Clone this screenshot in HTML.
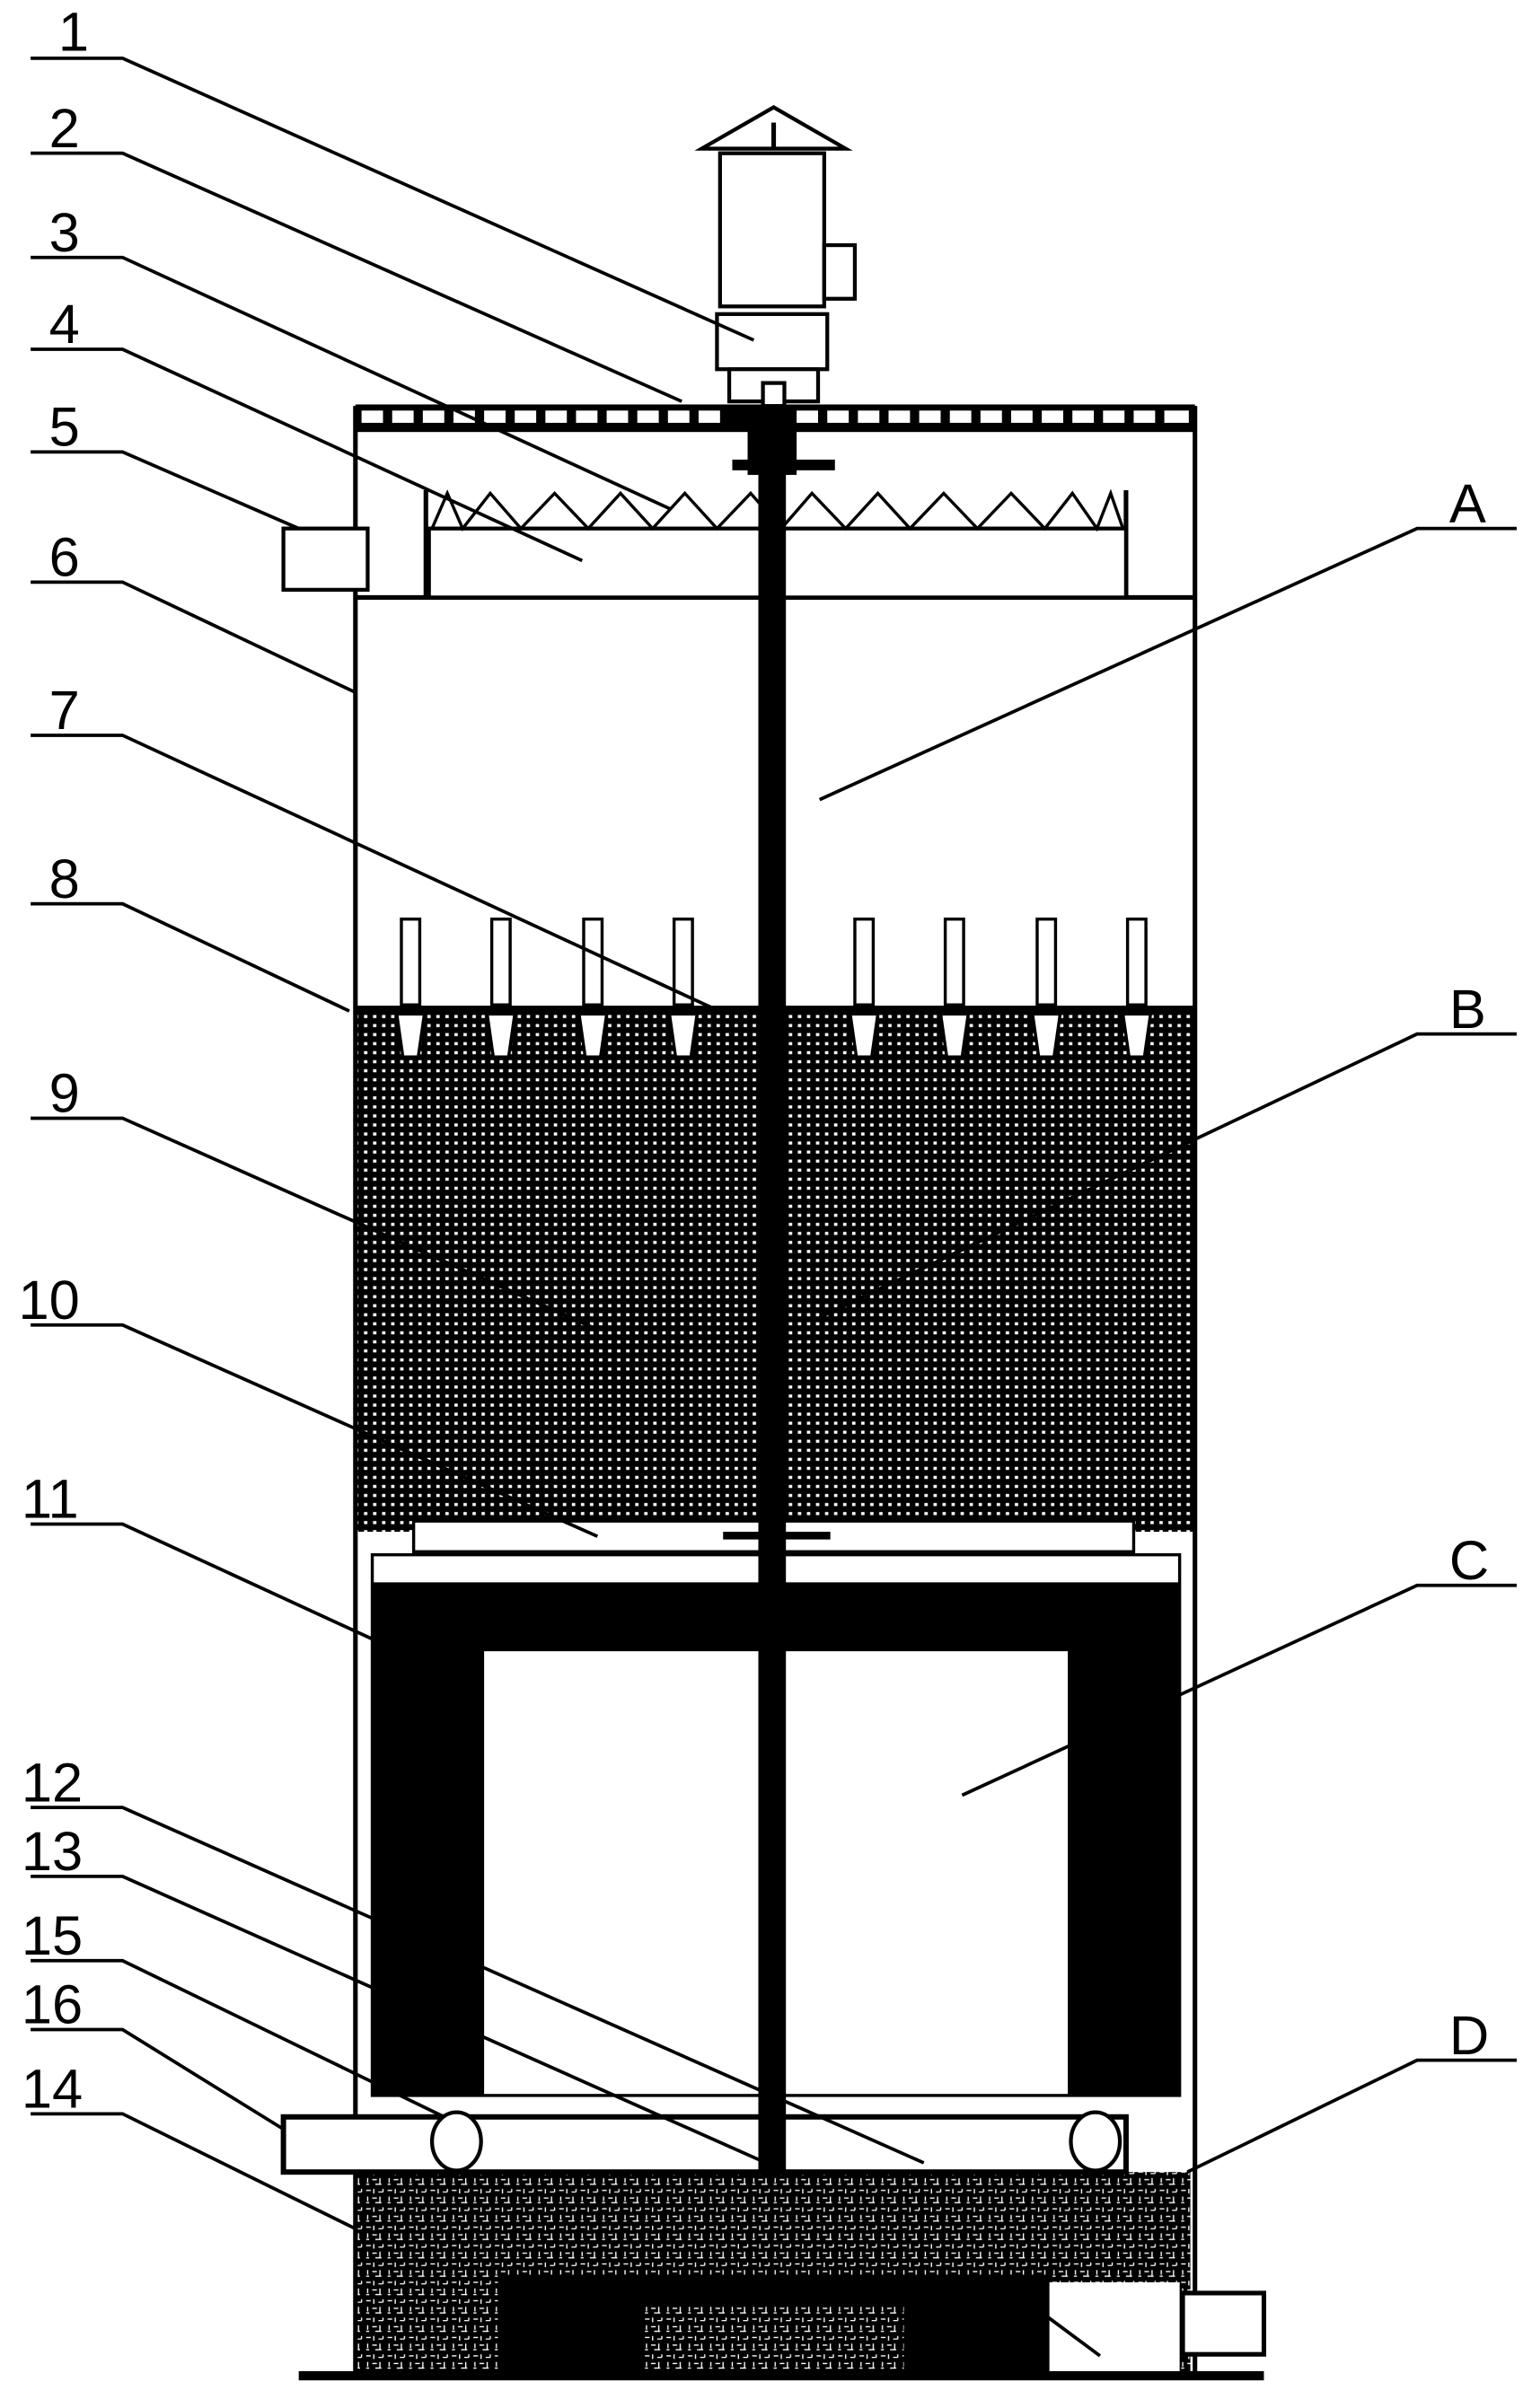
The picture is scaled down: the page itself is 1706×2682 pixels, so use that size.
<!DOCTYPE html>
<html><head><meta charset="utf-8"><style>html,body{margin:0;padding:0;background:#fff}svg{display:block}</style></head>
<body>
<svg width="1706" height="2682" viewBox="0 0 1000 1572" xmlns="http://www.w3.org/2000/svg" font-family="Liberation Sans, sans-serif">
<defs>
<pattern id="mesh" width="5.9" height="5.9" patternUnits="userSpaceOnUse">
<rect width="5.9" height="5.9" fill="#000"/><rect x="1.6" y="1.8" width="2.2" height="2.0" fill="#fff"/>
</pattern>
<pattern id="grav" width="14" height="12" patternUnits="userSpaceOnUse">
<rect width="14" height="12" fill="#000"/>
<path d="M1 2h3M6 1v3M9 3h3M2 6v3M5 7h3M10 6v4M1 10h2M7 10h4M12 1v2" stroke="#fff" stroke-width="0.8" fill="none"/>
</pattern>
</defs>
<!-- motor -->
<g fill="#fff" stroke="#000" stroke-width="2.5">
<path d="M458 97L505 70L552 97Z"/>
<rect x="470" y="100" width="68" height="100"/>
<rect x="538" y="160" width="20" height="35"/>
<rect x="468" y="205" width="72" height="36"/>
<path d="M476 241H534V262H476Z"/>
<rect x="498" y="250" width="14" height="15"/>
</g>
<line x1="505" y1="80" x2="505" y2="97" stroke="#000" stroke-width="3"/>
<rect x="232" y="658" width="548" height="342" fill="url(#mesh)"/>
<rect x="232" y="1418" width="545" height="132" fill="url(#grav)"/>
<rect x="325" y="1485" width="360" height="65" fill="#000"/>
<rect x="420" y="1505" width="170" height="45" fill="url(#grav)"/>
<rect x="685" y="1490" width="85" height="60" fill="#fff"/>
<g stroke="#000" stroke-width="3" fill="none">
<line x1="232" y1="265" x2="232" y2="1550"/>
<line x1="780" y1="265" x2="780" y2="1550"/>
<line x1="232" y1="390" x2="780" y2="390"/>
<line x1="278" y1="320" x2="278" y2="390"/>
<line x1="735" y1="320" x2="735" y2="390"/>
</g>
<rect x="232" y="264" width="548" height="18" fill="#000"/>
<g fill="#fff">
<rect x="236" y="268" width="14" height="8"/><rect x="256" y="268" width="14" height="8"/><rect x="276" y="268" width="14" height="8"/><rect x="296" y="268" width="14" height="8"/><rect x="316" y="268" width="14" height="8"/><rect x="336" y="268" width="14" height="8"/><rect x="356" y="268" width="14" height="8"/><rect x="376" y="268" width="14" height="8"/><rect x="396" y="268" width="14" height="8"/><rect x="416" y="268" width="14" height="8"/><rect x="436" y="268" width="14" height="8"/><rect x="456" y="268" width="14" height="8"/>
<rect x="520" y="268" width="14" height="8"/><rect x="540" y="268" width="14" height="8"/><rect x="560" y="268" width="14" height="8"/><rect x="580" y="268" width="14" height="8"/><rect x="600" y="268" width="14" height="8"/><rect x="620" y="268" width="14" height="8"/><rect x="640" y="268" width="14" height="8"/><rect x="660" y="268" width="14" height="8"/><rect x="680" y="268" width="14" height="8"/><rect x="700" y="268" width="14" height="8"/><rect x="720" y="268" width="14" height="8"/><rect x="740" y="268" width="14" height="8"/><rect x="760" y="268" width="16" height="8"/>
</g>
<rect x="280" y="345" width="455" height="45" fill="#fff" stroke="#000" stroke-width="2.5"/>
<path d="M282 345L292 322L302 345L320 322L340 345L362 322L384 345L405 322L426 345L447 322L468 345L490 322L510 345L530 322L552 345L573 322L594 345L616 322L638 345L660 322L682 345L700 322L716 345L725 322L733 345" fill="none" stroke="#000" stroke-width="2"/>
<rect x="185" y="345" width="55" height="40" fill="#fff" stroke="#000" stroke-width="2.5"/>
<g fill="#fff" stroke="#000" stroke-width="2">
<rect x="262" y="600" width="12" height="56"/><path d="M259 662h18l-4 28h-10z"/>
<rect x="321" y="600" width="12" height="56"/><path d="M318 662h18l-4 28h-10z"/>
<rect x="381" y="600" width="12" height="56"/><path d="M378 662h18l-4 28h-10z"/>
<rect x="440" y="600" width="12" height="56"/><path d="M437 662h18l-4 28h-10z"/>
<rect x="558" y="600" width="12" height="56"/><path d="M555 662h18l-4 28h-10z"/>
<rect x="617" y="600" width="12" height="56"/><path d="M614 662h18l-4 28h-10z"/>
<rect x="677" y="600" width="12" height="56"/><path d="M674 662h18l-4 28h-10z"/>
<rect x="736" y="600" width="12" height="56"/><path d="M733 662h18l-4 28h-10z"/>
</g>
<line x1="232" y1="658" x2="780" y2="658" stroke="#000" stroke-width="3"/>
<rect x="270" y="993" width="470" height="20" fill="#fff" stroke="#000" stroke-width="2"/>
<rect x="243" y="1015" width="527" height="353" fill="#fff" stroke="#000" stroke-width="2"/>
<path d="M243 1033H770V1368H697V1078H316V1368H243Z" fill="#000"/>
<rect x="185" y="1382" width="550" height="36" fill="#fff" stroke="#000" stroke-width="3.5"/>
<ellipse cx="298" cy="1398" rx="16" ry="19" fill="#fff" stroke="#000" stroke-width="2.5"/>
<ellipse cx="715" cy="1398" rx="16" ry="19" fill="#fff" stroke="#000" stroke-width="2.5"/>
<rect x="495" y="265" width="18" height="1155" fill="#000"/>
<rect x="488" y="280" width="32" height="30" fill="#000"/>
<rect x="478" y="300" width="67" height="7" fill="#000"/>
<rect x="472" y="1000" width="70" height="5" fill="#000"/>
<rect x="772" y="1497" width="53" height="40" fill="#fff" stroke="#000" stroke-width="3"/>
<rect x="195" y="1548" width="630" height="6" fill="#000"/>
<!-- leader lines on top -->
<g fill="none" stroke="#000" stroke-width="2.2">
<path d="M20 38H80L492 222M20 100H80L445 262M20 168H80L437 332M20 228H80L380 366M20 295H80L195 345M20 380H80L232 452M20 480H80L465 658M20 590H80L228 660M20 730H80L390 868M20 865H80L390 1003M20 995H80L243 1070M20 1180H80L603 1412M20 1225H80L500 1412M20 1280H80L290 1382M20 1325H80L185 1390M20 1380H80L232 1455"/>
<path d="M990 345H925L535 522M990 675H925L535 860M990 1035H925L628 1172M990 1345H925L775 1418M683 1512L718 1538"/>
</g>
<g font-size="36" fill="#000">
<text x="38" y="33">1</text><text x="32" y="96">2</text><text x="32" y="164">3</text><text x="32" y="224">4</text><text x="32" y="291">5</text><text x="32" y="376">6</text><text x="32" y="476">7</text><text x="32" y="586">8</text><text x="32" y="726">9</text><text x="12" y="861">10</text><text x="14" y="991">11</text><text x="14" y="1176">12</text><text x="14" y="1221">13</text><text x="14" y="1276">15</text><text x="14" y="1321">16</text><text x="14" y="1376">14</text>
<text x="946" y="341">A</text><text x="946" y="671">B</text><text x="946" y="1031">C</text><text x="946" y="1341">D</text>
</g>
</svg>
</body></html>
